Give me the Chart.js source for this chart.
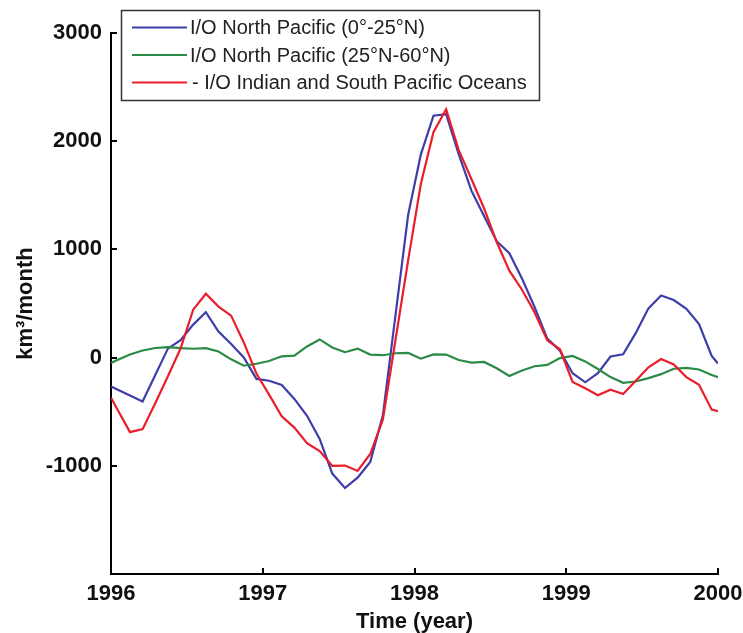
<!DOCTYPE html>
<html>
<head>
<meta charset="utf-8">
<script src="https://cdn.jsdelivr.net/npm/chart.js@4/dist/chart.umd.min.js"></script>
<style>
html,body{margin:0;padding:0;background:#ffffff;}
#wrap{width:743px;height:633px;position:relative;}
</style>
</head>
<body>
<div id="wrap"><canvas id="c" width="743" height="633"></canvas></div>
<script>
// ---- data ----
const seriesLabels = [
  'I/O North Pacific (0\u00b0-25\u00b0N)',
  'I/O North Pacific (25\u00b0N-60\u00b0N)',
  '- I/O Indian and South Pacific Oceans'
];
const seriesColors = ['#3e3eaa', '#2a8a46', '#ea1e2a'];

// time axis: start of 1996, mid-month samples, end of 1999
const timeYears = [1996];
for (let j = 0; j < 48; j++) timeYears.push(1996 + (j + 0.5) / 12);
timeYears.push(2000);

const northPacificTropics = [
  -267, -295, -350, -406, -161, 83, 162, 305, 420, 240, 125,
  2, -197, -214, -253, -382, -538, -751, -1072, -1205, -1110,
  -964, -533, 394, 1321, 1876, 2235, 2250, 1878, 1543, 1308,
  1076, 965, 731, 465, 175, 64, -144, -228, -144, 10,
  31, 228, 455, 574, 532, 450, 309, 16, -55
];
const northPacificMidLat = [
  -49, -22, 29, 66, 89, 97, 88, 82, 87, 56, -16,
  -75, -57, -31, 12, 18, 103, 168, 94, 50, 83,
  28, 22, 40, 43, -10, 30, 28, -22, -47, -40,
  -98, -170, -120, -80, -67, -5, 16, -35, -105, -180,
  -233, -221, -190, -153, -103, -95, -110, -160, -182
];
const indianSouthPacific = [
  -372, -477, -689, -661, -421, -172, 84, 443, 590, 471, 388,
  140, -148, -342, -543, -647, -790, -864, -1001, -998, -1048,
  -891, -572, 165, 901, 1604, 2083, 2295, 1918, 1651, 1380,
  1068, 804, 627, 417, 160, 77, -225, -284, -348, -297,
  -337, -215, -89, -13, -64, -180, -251, -481, -495
];
const xTicks = [1996, 1997, 1998, 1999, 2000];
const yTicks = [-2000, -1000, 0, 1000, 2000, 3000];

const allSeries = [northPacificTropics, northPacificMidLat, indianSouthPacific];

const FONT = '"Liberation Sans", Arial, sans-serif';

const datasets = allSeries.map((vals, i) => ({
  label: seriesLabels[i],
  data: vals.map((v, k) => ({ x: timeYears[k], y: v })),
  borderColor: seriesColors[i],
  backgroundColor: seriesColors[i],
  borderWidth: 2.2,
  pointRadius: 0,
  tension: 0,
  fill: false,
  order: 3 - i
}));

// inward tick marks
const inwardTicks = {
  id: 'inwardTicks',
  afterDraw(chart) {
    const ctx = chart.ctx;
    const xs = chart.scales.x, ys = chart.scales.y;
    const a = chart.chartArea;
    ctx.save();
    ctx.strokeStyle = '#000';
    ctx.lineWidth = 2;
    ctx.beginPath();
    xTicks.forEach(t => {
      const px = Math.round(xs.getPixelForValue(t));
      ctx.moveTo(px, a.bottom);
      ctx.lineTo(px, a.bottom - 6);
    });
    yTicks.forEach(t => {
      const py = Math.round(ys.getPixelForValue(t));
      ctx.moveTo(a.left, py);
      ctx.lineTo(a.left + 6, py);
    });
    ctx.stroke();
    ctx.restore();
  }
};

// legend box inside the plot area
const boxLegend = {
  id: 'boxLegend',
  afterDraw(chart) {
    const ctx = chart.ctx;
    const bx = 121, by = 10, bw = 418, bh = 90;
    ctx.save();
    ctx.fillStyle = '#ffffff';
    ctx.fillRect(bx, by, bw, bh);
    ctx.strokeStyle = '#333333';
    ctx.lineWidth = 1.5;
    ctx.strokeRect(bx + 0.5, by + 0.5, bw, bh);
    ctx.font = '20px ' + FONT;
    ctx.textBaseline = 'middle';
    ctx.textAlign = 'left';
    chart.data.datasets.forEach((ds, i) => {
      const ry = 27.5 + i * 27.5;
      ctx.strokeStyle = ds.borderColor;
      ctx.lineWidth = 2;
      ctx.beginPath();
      ctx.moveTo(132, ry);
      ctx.lineTo(187, ry);
      ctx.stroke();
      ctx.fillStyle = '#222';
      ctx.fillText(ds.label, i === 2 ? 192 : 190, ry + 1);
    });
    ctx.restore();
  }
};

new Chart(document.getElementById('c'), {
  type: 'line',
  data: { datasets },
  plugins: [inwardTicks, boxLegend],
  options: {
    responsive: false,
    animation: false,
    devicePixelRatio: 1,
    layout: { padding: { top: 33, right: 25, left: 0, bottom: 0 } },
    plugins: { legend: { display: false }, tooltip: { enabled: false } },
    scales: {
      x: {
        type: 'linear',
        min: 1996, max: 2000,
        afterBuildTicks: s => { s.ticks = xTicks.map(v => ({ value: v })); },
        afterFit: s => { s.height = 59; s.paddingLeft = 0; s.paddingRight = 0; },
        grid: { display: false, drawTicks: false },
        border: { display: true, color: '#000', width: 2 },
        ticks: {
          color: '#111',
          padding: 7,
          maxRotation: 0,
          font: { family: FONT, size: 22, weight: 'bold' },
          callback: v => String(v)
        },
        title: {
          display: true,
          text: 'Time (year)',
          color: '#111',
          font: { family: FONT, size: 22, weight: 'bold', lineHeight: 1 },
          padding: { top: 0, bottom: 0 }
        }
      },
      y: {
        type: 'linear',
        min: -2000, max: 3000,
        afterBuildTicks: s => { s.ticks = yTicks.map(v => ({ value: v })); },
        afterFit: s => { s.width = 111; s.paddingTop = 0; s.paddingBottom = 0; },
        grid: { display: false, drawTicks: false },
        border: { display: true, color: '#000', width: 2 },
        ticks: {
          color: '#111',
          padding: 9,
          font: { family: FONT, size: 22, weight: 'bold' },
          callback: v => (v === -2000 ? '' : String(v))
        },
        title: {
          display: true,
          text: 'km\u00b3/month',
          color: '#111',
          font: { family: FONT, size: 22, weight: 'bold', lineHeight: 1 },
          padding: { top: 15, bottom: 0 }
        }
      }
    }
  }
});
</script>
</body>
</html>
